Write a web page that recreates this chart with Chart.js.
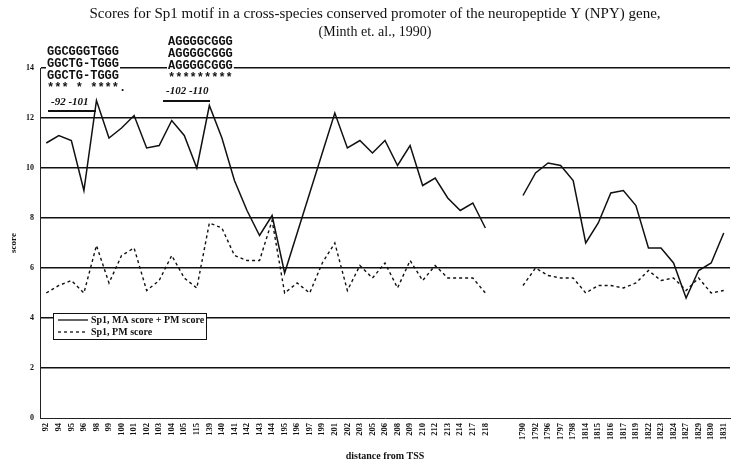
<!DOCTYPE html>
<html><head><meta charset="utf-8">
<script src="https://cdn.jsdelivr.net/npm/chart.js@4/dist/chart.umd.min.js"></script>
<style>html,body{margin:0;padding:0;background:#fff;overflow:hidden}canvas{display:block}</style>
</head><body>
<canvas id="c" width="731" height="462"></canvas>
<script>
// ---- text ----
const titleLines = ['Scores for Sp1 motif in a cross-species conserved promoter of the neuropeptide Y (NPY) gene,', '(Minth et. al., 1990)'];
const yAxisTitle = 'score';
const xAxisTitle = 'distance from TSS';
const seriesNames = ['Sp1, MA score + PM score', 'Sp1, PM score'];
const motifLeft = ['GGCGGGTGGG', 'GGCTG-TGGG', 'GGCTG-TGGG', '*** * ****.'];
const motifLeftPos = '-92 -101';
const motifRight = ['AGGGGCGGG', 'AGGGGCGGG', 'AGGGGCGGG', '*********'];
const motifRightPos = '-102 -110';

// ---- categories ----
const categoriesA = ['92','94','95','96','98','99','100','101','102','103','104','105','115','139','140','141','142','143','144','195','196','197','199','201','202','203','205','206','208','209','210','212','213','214','217','218'];
const gapCategories = ['', ''];
const categoriesB = ['1790','1792','1796','1797','1798','1814','1815','1816','1817','1819','1822','1823','1824','1827','1829','1830','1831'];

// ---- values ----
const maScoreA = [11.0,11.3,11.1,9.1,12.7,11.2,11.6,12.1,10.8,10.9,11.9,11.3,10.0,12.5,11.2,9.5,8.3,7.3,8.1,5.8,7.4,9.0,10.6,12.2,10.8,11.1,10.6,11.1,10.1,10.9,9.3,9.6,8.8,8.3,8.6,7.6];
const maScoreB = [8.9,9.8,10.2,10.1,9.5,7.0,7.8,9.0,9.1,8.5,6.8,6.8,6.2,4.8,5.9,6.2,7.4];
const pmScoreA = [5.0,5.3,5.5,5.0,6.9,5.4,6.5,6.8,5.1,5.5,6.5,5.6,5.2,7.8,7.6,6.5,6.3,6.3,7.9,5.0,5.4,5.0,6.2,7.0,5.1,6.1,5.6,6.2,5.2,6.3,5.5,6.1,5.6,5.6,5.6,5.0];
const pmScoreB = [5.3,6.0,5.7,5.6,5.6,5.0,5.3,5.3,5.2,5.4,5.9,5.5,5.6,5.1,5.6,5.0,5.1];
const gapValues = [null, null];
const yMin = 0, yMax = 14, yStep = 2;

const labels = categoriesA.concat(gapCategories, categoriesB);
const maScore = maScoreA.concat(gapValues, maScoreB);
const pmScore = pmScoreA.concat(gapValues, pmScoreB);

const SERIF = '"Liberation Serif", "Times New Roman", serif';
const MONO = '"Liberation Mono", "Courier New", monospace';

const decorPlugin = {
  id: 'decor',
  afterDraw(chart) {
    const ctx = chart.ctx;
    ctx.save();
    // title
    ctx.fillStyle = '#111';
    ctx.textAlign = 'center';
    ctx.textBaseline = 'middle';
    ctx.font = '15px ' + SERIF;
    ctx.fillText(titleLines[0], 375, 14);
    ctx.font = '14px ' + SERIF;
    ctx.fillText(titleLines[1], 375, 32);

    // motif blocks
    function block(lines, x, y0, dy) {
      ctx.font = 'bold 12px ' + MONO;
      ctx.textAlign = 'left';
      ctx.textBaseline = 'middle';
      lines.forEach((t, i) => {
        const w = ctx.measureText(t).width;
        ctx.fillStyle = '#fff';
        ctx.fillRect(x - 1, y0 + i * dy - 6, w + 2, 12);
        ctx.fillStyle = '#111';
        ctx.fillText(t, x, y0 + i * dy);
      });
    }
    block(motifLeft, 47, 52, 12);
    block(motifRight, 168, 42, 12);

    ctx.font = 'bold italic 11px ' + SERIF;
    ctx.textAlign = 'left';
    ctx.fillStyle = '#111';
    ctx.fillText(motifLeftPos, 51, 102);
    ctx.fillText(motifRightPos, 166, 91);
    ctx.strokeStyle = '#111';
    ctx.lineWidth = 2;
    ctx.beginPath();
    ctx.moveTo(48, 111); ctx.lineTo(96, 111);
    ctx.moveTo(163, 101); ctx.lineTo(210, 101);
    ctx.stroke();

    // legend
    const lx = 53, ly = 313, lw = 153, lh = 26;
    ctx.fillStyle = '#fff';
    ctx.fillRect(lx, ly, lw, lh);
    ctx.strokeStyle = '#111';
    ctx.lineWidth = 1;
    ctx.strokeRect(lx + 0.5, ly + 0.5, lw, lh);
    const ds = chart.data.datasets;
    ctx.font = 'bold 10px ' + SERIF;
    ctx.textBaseline = 'middle';
    ds.forEach((d, i) => {
      const yy = ly + 7 + i * 12;
      ctx.setLineDash(d.borderDash || []);
      ctx.lineWidth = 1.3;
      ctx.beginPath();
      ctx.moveTo(lx + 5, yy); ctx.lineTo(lx + 35, yy);
      ctx.stroke();
      ctx.setLineDash([]);
      ctx.fillStyle = '#111';
      ctx.fillText(d.label, lx + 38, yy);
    });
    ctx.restore();
  }
};

new Chart(document.getElementById('c'), {
  type: 'line',
  data: {
    labels: labels,
    datasets: [
      { label: seriesNames[0], data: maScore, borderColor: '#111', borderWidth: 1.5, pointRadius: 0, tension: 0, spanGaps: false, fill: false },
      { label: seriesNames[1], data: pmScore, borderColor: '#111', borderWidth: 1.4, borderDash: [3, 3], pointRadius: 0, tension: 0, spanGaps: false, fill: false }
    ]
  },
  options: {
    responsive: false,
    animation: false,
    devicePixelRatio: 1,
    layout: { padding: { top: 68, right: 1, left: 0, bottom: 0 } },
    plugins: { legend: { display: false }, title: { display: false }, tooltip: { enabled: false } },
    scales: {
      x: {
        type: 'category',
        offset: true,
        afterFit(s) { s.height = 44; s.paddingLeft = 0; s.paddingRight = 0; },
        grid: { display: false, drawTicks: false },
        border: { display: true, color: '#222', width: 1 },
        ticks: { autoSkip: false, minRotation: 90, maxRotation: 90, padding: 5, color: '#111', font: { family: SERIF, size: 8.5, weight: 'bold' } },
        title: { display: true, text: xAxisTitle, color: '#111', font: { family: SERIF, size: 10, weight: 'bold' }, padding: { top: 0, bottom: 0 } }
      },
      y: {
        min: yMin, max: yMax,
        afterFit(s) { s.width = 40; s.paddingTop = 0; s.paddingBottom = 0; },
        ticks: { stepSize: yStep, padding: 6, color: '#111', font: { family: SERIF, size: 8, weight: 'bold' } },
        grid: { color: (c) => (c.tick && c.tick.value === 0 ? 'rgba(0,0,0,0)' : '#111'), lineWidth: 1.5, drawTicks: false },
        border: { display: true, color: '#222', width: 1 },
        title: { display: true, text: yAxisTitle, color: '#111', font: { family: SERIF, size: 9, weight: 'bold' }, padding: { top: 8, bottom: 0 } }
      }
    }
  },
  plugins: [decorPlugin]
});
</script>
</body></html>
